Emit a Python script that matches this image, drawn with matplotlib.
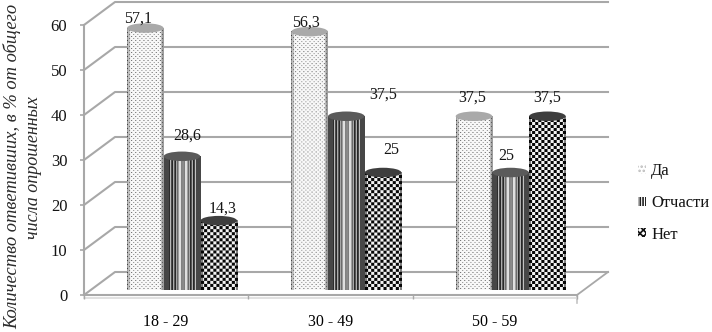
import numpy as np
import matplotlib
matplotlib.use("Agg")
import matplotlib.pyplot as plt
from matplotlib.patches import Polygon, Ellipse, Patch

plt.rcParams['font.family'] = ['Liberation Serif', 'DejaVu Serif']
plt.rcParams['hatch.linewidth'] = 1.2

categories = ['18 - 29', '30 - 49', '50 - 59']
series_names = ['Да', 'Отчасти', 'Нет']
da = [57.1, 56.3, 37.5]
otchasti = [28.6, 37.5, 25]
net = [14.3, 25, 37.5]
labels_da = ['57,1', '56,3', '37,5']
labels_otchasti = ['28,6', '37,5', '25']
labels_net = ['14,3', '25', '37,5']
yticks = [0, 10, 20, 30, 40, 50, 60]

W, H = 712, 332
GRID = '#a8a8a8'
TEXT = '#141414'
fig = plt.figure(figsize=(W / 100, H / 100), dpi=100, facecolor='white')
ax = fig.add_axes([84 / W, (H - 295) / H, (577 - 84) / W, 270 / H])
ax.set_xlim(0, 3)
ax.set_ylim(0, 60)
px_x = 164.33   # pixels per category
px_y = 4.5      # pixels per value unit
dx, dy = 31 / px_x, 23 / px_y

# walls and floor
for v in yticks:
    ax.plot([0, dx, 3 + dx], [v, v + dy, v + dy], color=GRID, lw=1.5, clip_on=False, zorder=1)
ax.plot([3, 3 + dx], [0, dy], color=GRID, lw=1.3, clip_on=False, zorder=1)
ax.plot([3, 3], [0, -8 / px_y], color='#c4c4c4', lw=1.2, clip_on=False, zorder=1)
ax.plot([0, 3], [-3 / px_y, -3 / px_y], color='#dcdcdc', lw=1.2, clip_on=False, zorder=1)


def texture(kind, w, h):
    xx, yy = np.meshgrid(np.arange(w), np.arange(h))
    u = (xx + 0.5) / w
    edge = np.minimum(u, 1 - u) * w
    if kind == 0:
        a = np.full((h, w), 0.97)
        a[(xx % 4 == 0) & (yy % 4 == 0)] = 0.4
        a[(xx % 4 == 2) & (yy % 4 == 2)] = 0.55
        a = np.where(edge < 3, a * 0.78, a)
        a = np.where(edge < 1.5, a * 0.82, a)
    elif kind == 1:
        a = np.where(xx % 3 == 0, 0.85, 0.16)
        a = np.where((xx % 2 == 0) & (u > 0.3) & (u < 0.72), 0.9, a)
        a = np.where(edge < 5, 0.28, a)
    else:
        a = np.where(((xx // 3) + (yy // 3)) % 2 == 0, 0.03, 0.95)
        a = np.where((edge < 2) & (a > 0.5), 0.5, a)
    return a


bar_w = 36.5 / px_x
base = 10 / px_y
cap_h = 9.5 / px_y
centers = [0.373, 0.596, 0.82]
cap_col = ['#a9a9a9', '#5a5a5a', '#3e3e3e']
offs = [[(-7, 1), (-4, 1), (-2, 11)],
        [(5, 13), (37, 14), (-4, 8)],
        [(4, 4), (8, 14), (0, 11)]]
all_series = [da, otchasti, net]
all_labels = [labels_da, labels_otchasti, labels_net]

for s, vals in enumerate(all_series):
    for g, val in enumerate(vals):
        xc = g + centers[s]
        top = base + val
        x0, x1 = xc - bar_w / 2, xc + bar_w / 2
        t = np.linspace(0, np.pi, 40)
        ex = xc + np.cos(t) * bar_w / 2
        ey = np.sin(t) * cap_h / 2
        pts = np.r_[np.c_[[x0, x1], [top, top]], np.c_[ex, base - ey]]
        clip = Polygon(pts, closed=True, transform=ax.transData)
        y_lo, y_hi = base - cap_h / 2, top
        w_px = int(round(bar_w * px_x))
        h_px = int(round((y_hi - y_lo) * px_y))
        im = ax.imshow(texture(s, w_px, h_px), cmap='gray', vmin=0, vmax=1,
                       extent=(x0, x1, y_lo, y_hi), aspect='auto',
                       interpolation='bilinear', zorder=3 + s, clip_on=False)
        im.set_clip_path(clip)
        ax.add_patch(Ellipse((xc, top), bar_w, cap_h, facecolor=cap_col[s],
                             edgecolor='none', zorder=3 + s, clip_on=False))
        ox, oy = offs[s][g]
        ax.annotate(all_labels[s][g], (xc, top), xytext=(ox * 0.72, oy * 0.72),
                    textcoords='offset points', ha='center', va='bottom',
                    fontsize=11.5, color=TEXT, zorder=10, annotation_clip=False)

ax.set_xlim(0, 3)
ax.set_ylim(0, 60)
for sp in ['top', 'right']:
    ax.spines[sp].set_visible(False)
for sp in ['left', 'bottom']:
    ax.spines[sp].set_color(GRID)
    ax.spines[sp].set_linewidth(1.5)
ax.set_yticks(yticks)
ax.set_yticklabels([str(v) for v in yticks], fontsize=12, color=TEXT)
ax.tick_params(axis='y', color=GRID, length=3, width=1.2, pad=9)
ax.set_xticks([0, 1, 2, 3])
ax.set_xticklabels([])
ax.tick_params(axis='x', color=GRID, length=3, width=1)
ax.set_xticks([0.5, 1.5, 2.5], minor=True)
ax.set_xticklabels(categories, minor=True, fontsize=11.5, color='black')
ax.tick_params(axis='x', which='minor', length=0, pad=14)

fig.text(12 / W, 1 - 166 / H, 'Количество ответивших, в % от общего', rotation=90,
         style='italic', fontsize=13.3, color='#2a2a2a', ha='center', va='center')
fig.text(34 / W, 1 - 168 / H, 'числа опрошенных', rotation=90,
         style='italic', fontsize=13, color='#2a2a2a', ha='center', va='center')

handles = [Patch(facecolor='white', edgecolor='#bbbbbb', hatch='....', lw=0),
           Patch(facecolor='white', edgecolor='#222222', hatch='||||||', lw=0),
           Patch(facecolor='white', edgecolor='#111111', hatch='xxxxx', lw=0)]
fig.legend(handles, series_names, loc='center left', bbox_to_anchor=(638 / W, 1 - 203 / H),
           frameon=False, fontsize=12, handlelength=0.45, handleheight=0.45,
           handletextpad=0.35, labelspacing=0.95, labelcolor=TEXT, borderpad=0, borderaxespad=0)

fig.savefig('out.png', dpi=100)
